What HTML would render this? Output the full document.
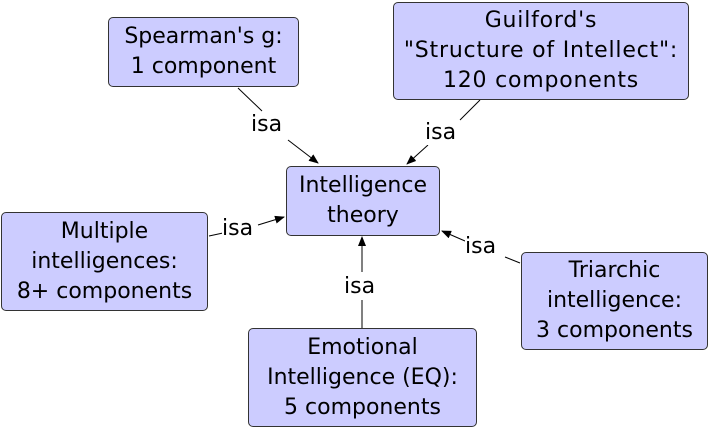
<!DOCTYPE html>
<html><head><style>
body{margin:0;width:709px;height:428px;background:#fff;position:relative;overflow:hidden;font-family:"DejaVu Sans","Liberation Sans",sans-serif;}
.b{position:absolute;background:#ccccff;border:1px solid #333;border-radius:5px;box-sizing:border-box;display:flex;align-items:center;justify-content:center;text-align:center;font-size:22px;line-height:30px;color:#000;white-space:nowrap;}
.l{position:absolute;font-size:22px;background:#fff;line-height:24px;}
svg{position:absolute;left:0;top:0}
</style></head><body>
<svg width="709" height="428">
<defs><marker id="a" markerWidth="10" markerHeight="8" refX="9" refY="4" orient="auto" markerUnits="userSpaceOnUse"><path d="M0,0L10,4L0,8z" fill="#000"/></marker></defs>
<g stroke="#000" stroke-width="1" fill="none">
<line x1="238" y1="88" x2="262" y2="111"/>
<line x1="288" y1="140" x2="318" y2="163" marker-end="url(#a)"/>
<line x1="480" y1="100" x2="460" y2="120"/>
<line x1="428" y1="145" x2="407" y2="164" marker-end="url(#a)"/>
<line x1="209" y1="236" x2="223" y2="233"/>
<line x1="258" y1="225" x2="284" y2="217" marker-end="url(#a)"/>
<line x1="520" y1="263" x2="505" y2="257"/>
<line x1="465" y1="241" x2="442" y2="231" marker-end="url(#a)"/>
<line x1="362" y1="328" x2="362" y2="300"/>
<line x1="362" y1="272" x2="362" y2="237" marker-end="url(#a)"/>
</g></svg>
<div class="b" style="left:108px;top:17px;width:191px;height:70px">Spearman's g:<br>1 component</div>
<div class="b" style="left:393px;top:2px;width:296px;height:98px;letter-spacing:0.8px">Guilford's<br>"Structure of Intellect":<br>120 components</div>
<div class="b" style="left:286px;top:166px;width:154px;height:70px">Intelligence<br>theory</div>
<div class="b" style="left:1px;top:212px;width:207px;height:99px">Multiple<br>intelligences:<br>8+ components</div>
<div class="b" style="left:521px;top:252px;width:187px;height:98px">Triarchic<br>intelligence:<br>3 components</div>
<div class="b" style="left:248px;top:328px;width:229px;height:99px">Emotional<br>Intelligence (EQ):<br>5 components</div>
<div class="l" style="left:251px;top:113px">isa</div>
<div class="l" style="left:425px;top:121px">isa</div>
<div class="l" style="left:222px;top:217px">isa</div>
<div class="l" style="left:465px;top:235px">isa</div>
<div class="l" style="left:344px;top:275px">isa</div>
</body></html>
